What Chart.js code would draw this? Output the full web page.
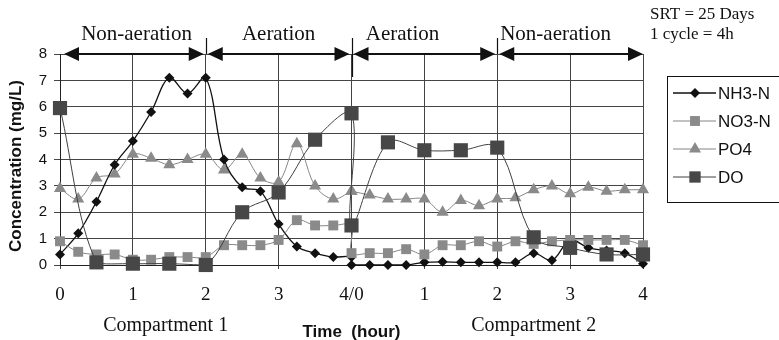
<!DOCTYPE html>
<html>
<head>
<meta charset="utf-8">
<script src="https://cdn.jsdelivr.net/npm/chart.js@4.4.0/dist/chart.umd.min.js"></script>
<style>
  html, body { margin: 0; padding: 0; background: #fff; }
  #wrap { width: 779px; height: 340px; }
</style>
</head>
<body>
<div id="wrap"><canvas id="myChart"></canvas></div>
<script>
// sampling times (hours) - compartment 1 runs 0..4, compartment 2 runs 4..8
const timesQ = [0, 0.25, 0.5, 0.75, 1, 1.25, 1.5, 1.75, 2, 2.25, 2.5, 2.75, 3, 3.25, 3.5, 3.75, 4,
                4, 4.25, 4.5, 4.75, 5, 5.25, 5.5, 5.75, 6, 6.25, 6.5, 6.75, 7, 7.25, 7.5, 7.75, 8];
const timesH = [0, 0.5, 1, 1.5, 2, 2.5, 3, 3.5, 4,
                4, 4.5, 5, 5.5, 6, 6.5, 7, 7.5, 8];

const nh3 = [0.4, 1.2, 2.4, 3.8, 4.7, 5.8, 7.1, 6.5, 7.1, 4.0, 2.95, 2.8, 1.55, 0.7, 0.45, 0.3, 0.3,
             0, 0, 0, 0, 0.1, 0.12, 0.1, 0.1, 0.1, 0.1, 0.45, 0.18, 0.95, 0.65, 0.55, 0.45, 0.05];
const no3 = [0.9, 0.5, 0.4, 0.4, 0.2, 0.2, 0.3, 0.3, 0.3, 0.75, 0.75, 0.75, 0.95, 1.7, 1.5, 1.5, 1.5,
             0.45, 0.45, 0.45, 0.6, 0.4, 0.75, 0.75, 0.9, 0.7, 0.9, 0.8, 0.9, 0.95, 0.95, 0.95, 0.95, 0.75];
const po4 = [2.9, 2.5, 3.3, 3.45, 4.2, 4.05, 3.8, 4.0, 4.2, 3.6, 4.2, 3.3, 3.15, 4.6, 3.0, 2.5, 2.8,
             2.8, 2.65, 2.5, 2.5, 2.5, 2.0, 2.45, 2.25, 2.5, 2.55, 2.85, 3.0, 2.7, 2.95, 2.8, 2.85, 2.85];
const dox = [5.95, 0.1, 0.05, 0.05, 0.0, 2.0, 2.75, 4.75, 5.75,
             1.5, 4.65, 4.35, 4.35, 4.45, 1.05, 0.65, 0.4, 0.4];

const tickLabels = ['0', '1', '2', '3', '4/0', '1', '2', '3', '4'];
const phaseNames = ['Non-aeration', 'Aeration', 'Aeration', 'Non-aeration'];
const phaseBounds = [0, 2, 4, 6, 8];
const phaseLabelAt = [1.05, 3, 4.7, 6.8];
const compartments = ['Compartment 1', 'Compartment 2'];
const compartmentAt = [1.45, 6.5];
const notes = ['SRT = 25 Days', '1 cycle = 4h'];

const pts = (xs, ys) => xs.map((x, i) => ({ x: x, y: ys[i] }));

const SANS = '"Liberation Sans", Arial, sans-serif';
const SERIF = '"Liberation Serif", "Times New Roman", serif';

const datasets = [
  { label: 'NH3-N', data: pts(timesQ, nh3), borderColor: '#111', backgroundColor: '#111',
    borderWidth: 1.3, pointStyle: 'rectRot', pointRadius: 5, order: 2 },
  { label: 'NO3-N', data: pts(timesQ, no3), borderColor: '#858585', backgroundColor: '#8a8a8a',
    borderWidth: 1, pointStyle: 'rect', pointRadius: 7, order: 1 },
  { label: 'PO4', data: pts(timesQ, po4), borderColor: '#858585', backgroundColor: '#8a8a8a',
    borderWidth: 1, pointStyle: 'triangle', pointRadius: 7, order: 3 },
  { label: 'DO', data: pts(timesH, dox), borderColor: '#404040', backgroundColor: '#474747',
    borderWidth: 1, pointStyle: 'rect', pointRadius: 10, order: 0 }
];
datasets.forEach(d => {
  d.tension = 0.35;
  d.clip = false;
  d.pointBorderWidth = 0;
  d.pointHoverRadius = d.pointRadius;
});

const decor = {
  id: 'decor',
  afterDraw(chart) {
    const ctx = chart.ctx;
    const xs = chart.scales.x;
    const area = chart.chartArea;
    const top = area.top;
    ctx.save();

    // phase dividers
    ctx.strokeStyle = '#111';
    ctx.lineWidth = 1.2;
    [2, 4, 6].forEach(v => {
      const x = Math.round(xs.getPixelForValue(v)) + 0.5;
      ctx.beginPath();
      ctx.moveTo(x, 38);
      ctx.lineTo(x, v === 4 ? top + 23 : top);
      ctx.stroke();
    });

    // double arrows
    ctx.fillStyle = '#111';
    for (let i = 0; i < phaseNames.length; i++) {
      const x0 = xs.getPixelForValue(phaseBounds[i]) + (i === 0 ? 4 : 2);
      const x1 = xs.getPixelForValue(phaseBounds[i + 1]) - (i === phaseNames.length - 1 ? 0 : 2);
      const hl = 15, hh = 7;
      ctx.lineWidth = 2;
      ctx.beginPath();
      ctx.moveTo(x0 + hl - 2, top);
      ctx.lineTo(x1 - hl + 2, top);
      ctx.stroke();
      ctx.beginPath();
      ctx.moveTo(x0, top);
      ctx.lineTo(x0 + hl, top - hh);
      ctx.lineTo(x0 + hl, top + hh);
      ctx.closePath();
      ctx.fill();
      ctx.beginPath();
      ctx.moveTo(x1, top);
      ctx.lineTo(x1 - hl, top - hh);
      ctx.lineTo(x1 - hl, top + hh);
      ctx.closePath();
      ctx.fill();
    }

    // phase labels
    ctx.fillStyle = '#111';
    ctx.textBaseline = 'middle';
    ctx.textAlign = 'center';
    ctx.font = '21px ' + SERIF;
    phaseNames.forEach((n, i) => ctx.fillText(n, xs.getPixelForValue(phaseLabelAt[i]), 34));

    // compartment labels
    ctx.font = '20px ' + SERIF;
    compartments.forEach((n, i) => ctx.fillText(n, xs.getPixelForValue(compartmentAt[i]), 326));

    // notes
    ctx.textAlign = 'left';
    ctx.font = '17px ' + SERIF;
    notes.forEach((n, i) => ctx.fillText(n, 650, 15 + i * 20));

    // axis titles
    ctx.textAlign = 'center';
    ctx.font = 'bold 17px ' + SANS;
    ctx.fillText('Time  (hour)', (area.left + area.right) / 2, 332);
    ctx.save();
    ctx.translate(16, 166);
    ctx.rotate(-Math.PI / 2);
    ctx.fillText('Concentration (mg/L)', 0, 0);
    ctx.restore();

    // legend
    const lx = 667.5, ly = 76.5;
    ctx.strokeStyle = '#111';
    ctx.lineWidth = 1;
    ctx.strokeRect(lx, ly, 140, 126);
    ctx.font = '17px ' + SANS;
    ctx.textAlign = 'left';
    chart.data.datasets.forEach((d, i) => {
      const y = 93 + i * 28;
      ctx.strokeStyle = d.borderColor;
      ctx.lineWidth = d.borderWidth;
      ctx.beginPath();
      ctx.moveTo(673, y);
      ctx.lineTo(716, y);
      ctx.stroke();
      ctx.fillStyle = d.backgroundColor;
      Chart.helpers.drawPoint(ctx, { pointStyle: d.pointStyle, radius: Math.min(d.pointRadius, 8), rotation: 0, borderWidth: 0 }, 695, y);
      ctx.fillStyle = '#111';
      ctx.fillText(d.label, 718, y + 1);
    });

    ctx.restore();
  }
};

const config = {
  type: 'line',
  data: { datasets },
  options: {
    responsive: true,
    maintainAspectRatio: false,
    animation: false,
    events: [],
    layout: { padding: { left: 0, right: 136, top: 54, bottom: 0 } },
    plugins: { legend: { display: false }, tooltip: { enabled: false } },
    scales: {
      x: {
        type: 'linear', min: 0, max: 8,
        afterFit: s => { s.height = 75; },
        border: { color: '#222', width: 1 },
        grid: { color: '#444', lineWidth: 1, tickLength: 4 },
        ticks: {
          stepSize: 1, padding: 15, color: '#111', autoSkip: false, maxRotation: 0,
          font: { family: SERIF, size: 19 },
          callback: v => tickLabels[v]
        }
      },
      y: {
        min: 0, max: 8,
        afterFit: s => { s.width = 60; },
        border: { color: '#222', width: 1 },
        grid: { color: '#444', lineWidth: 1, tickLength: 6 },
        ticks: { stepSize: 1, padding: 7, color: '#111', font: { family: SANS, size: 15 } }
      }
    }
  },
  plugins: [decor]
};

var myChart = new Chart(document.getElementById('myChart'), config);
</script>
</body>
</html>
